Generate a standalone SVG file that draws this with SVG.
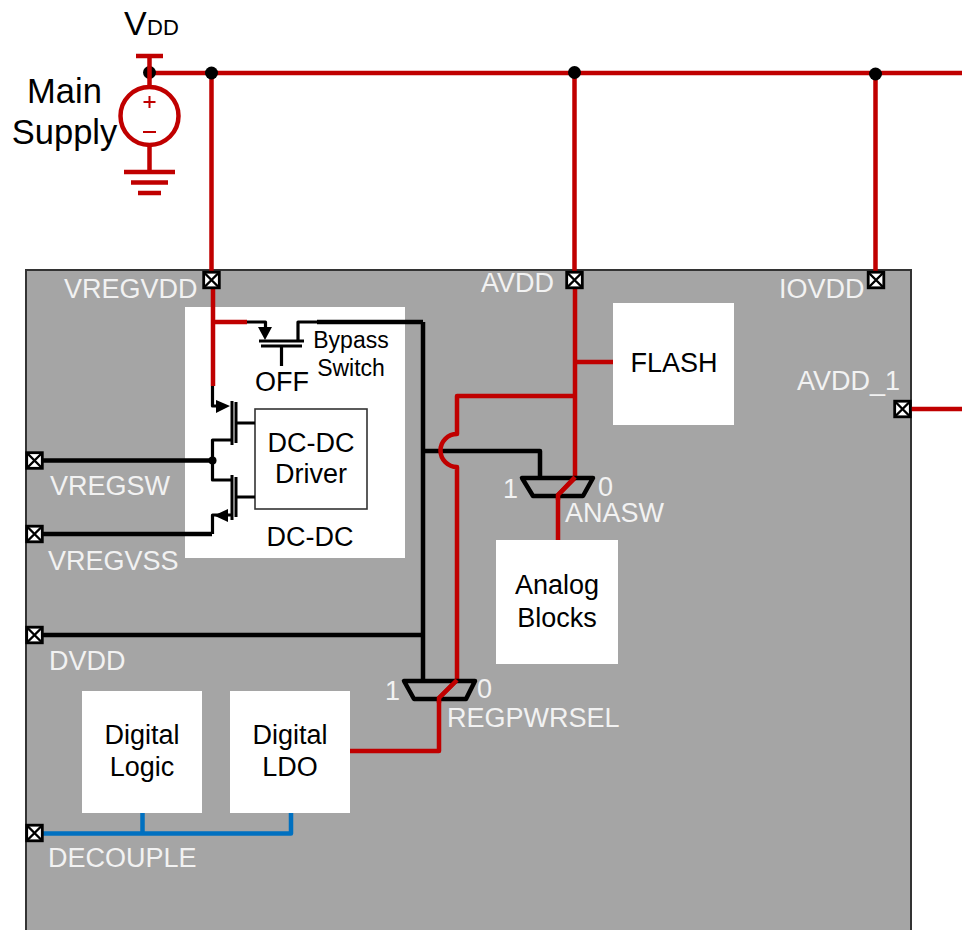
<svg xmlns="http://www.w3.org/2000/svg" width="962" height="930" viewBox="0 0 962 930">
<style>
text{font-family:"Liberation Sans",Arial,sans-serif;font-size:27px;fill:#000}
.w{fill:#f2f2f2}
.m{text-anchor:middle}
.r,.k,.bl,.t{fill:none;stroke-linejoin:round;stroke-linecap:butt}
.r{stroke:#c00000;stroke-width:4.5}
.k{stroke:#000;stroke-width:4.5}
.t{stroke:#000;stroke-width:3.2}
.bl{stroke:#0070c0;stroke-width:4.5}
.pad{fill:#fff;stroke:#000;stroke-width:2.8}
</style>
<defs>
<g id="padg"><rect class="pad" x="-7.800" y="-7.800" width="15.600" height="15.600"/><path d="M-7.500-7.500L7.500 7.500M7.500-7.500L-7.500 7.500" stroke="#000" stroke-width="2.400"/></g>
</defs>

<g id="chip"><rect x="26" y="270" width="885" height="680" fill="#a5a5a5" stroke="#333" stroke-width="2"/></g>
<g id="dcdc-box"><rect x="185" y="307" width="220" height="251" fill="#fff"/></g>
<g id="flash"><rect x="613" y="303" width="121" height="122" fill="#fff"/><text class="m" x="674" y="372">FLASH</text></g>
<g id="analog-blocks"><rect x="496" y="540" width="122" height="124" fill="#fff"/><text class="m" x="557" y="594">Analog</text><text class="m" x="557" y="627">Blocks</text></g>
<g id="digital-logic"><rect x="82" y="691" width="120" height="122" fill="#fff"/><text class="m" x="142" y="744">Digital</text><text class="m" x="142" y="776">Logic</text></g>
<g id="digital-ldo"><rect x="230" y="691" width="120" height="122" fill="#fff"/><text class="m" x="290" y="744">Digital</text><text class="m" x="290" y="776">LDO</text></g>
<g id="dcdc-driver"><rect x="255" y="409" width="112" height="100" fill="#fff" stroke="#333" stroke-width="1.600"/><text class="m" x="311" y="452">DC-DC</text><text class="m" x="311" y="483">Driver</text></g>

<g id="connectors">
<path class="r" d="M149 73H962M211.500 73V272M574.500 73V272M875.500 73V272M911 409H962"/>
<path class="k" d="M423 322V681M317 322H423M43 460.500H212M43 534H212M43 635H423M423 451H540V478"/>
<path class="t" d="M247 322H265.500V330M281.500 346V366M298 341V322H317M212.500 386V406H218M232 440H212.500V480H232M232 515H212.500V534M236 423H255M236 497H255"/>
<path class="r" d="M213 288V386M213 322H247M575 288V478L558 495V540M575 362H613M575 396H457V434A16.500 16.500 0 0 0 457 467V680L439 698V751H350"/>
<path class="bl" d="M43 833.500H291V813M142.500 813V833.500"/>
<circle cx="212.500" cy="460.500" r="4"/>
<circle cx="149.500" cy="72.500" r="6.500"/>
<circle cx="211.500" cy="73" r="6.500"/>
<circle cx="574.500" cy="72.500" r="6.500"/>
<circle cx="875.500" cy="74" r="6.500"/>
</g>

<g id="supply">
<path class="r" d="M136 56H163M149.500 56V88M149.500 145V172M124 172H175M131 182.500H168M138 193H161"/>
<circle cx="149.500" cy="116" r="29" fill="#fff" stroke="#c00000" stroke-width="4.500"/>
<path d="M149.500 96V108M143.500 102H155.500M143 132H156" stroke="#c00000" stroke-width="2" fill="none"/>
<text x="124" y="35" style="font-size:34px">V</text><text x="147" y="35" style="font-size:22px">DD</text>
<text class="m" x="64.500" y="103" style="font-size:34.500px">Main</text>
<text class="m" x="64.500" y="144" style="font-size:34.500px">Supply</text>
</g>

<g id="bypass-switch">
<path d="M258 327H272L265 340Z"/>
<path d="M259 341H304M261 346H302" stroke="#000" stroke-width="3" fill="none"/>
<text x="255" y="391">OFF</text>
<text class="m" x="351" y="348" style="font-size:23px">Bypass</text>
<text class="m" x="351" y="376" style="font-size:23px">Switch</text>
</g>

<g id="fets">
<path d="M230 406L216 400V413Z"/>
<path d="M214 515.500L228 509V522Z"/>
<path d="M232 401V445M236 402V443M232 475V520M236 477V517" stroke="#000" stroke-width="3" fill="none"/>
<text class="m" x="310" y="546">DC-DC</text>
</g>

<g id="mux-anasw">
<path d="M522 478H593L583 496H533Z" fill="none" stroke="#000" stroke-width="4.500" stroke-linejoin="round"/>
<path class="r" d="M575 477L558 495V500"/>
<text class="w" x="503" y="498">1</text><text class="w" x="598" y="496">0</text>
<text class="w" x="565" y="522">ANASW</text>
</g>
<g id="mux-regpwrsel">
<path d="M404 681H475L466 699H414Z" fill="none" stroke="#000" stroke-width="4.500" stroke-linejoin="round"/>
<path class="r" d="M457 680L439 698V703"/>
<text class="w" x="385" y="700">1</text><text class="w" x="477" y="698">0</text>
<text class="w" x="447" y="727">REGPWRSEL</text>
</g>

<g id="pad-vregvdd"><use href="#padg" x="211.500" y="280"/><text class="w" x="64" y="298">VREGVDD</text></g>
<g id="pad-avdd"><use href="#padg" x="574.500" y="280"/><text class="w" x="481" y="292">AVDD</text></g>
<g id="pad-iovdd"><use href="#padg" x="876" y="280"/><text class="w" x="779" y="298">IOVDD</text></g>
<g id="pad-avdd1"><use href="#padg" x="902.500" y="409"/><text class="w" x="797" y="390">AVDD_1</text></g>
<g id="pad-vregsw"><use href="#padg" x="34.500" y="460.500"/><text class="w" x="50" y="495">VREGSW</text></g>
<g id="pad-vregvss"><use href="#padg" x="34.500" y="534"/><text class="w" x="48" y="570">VREGVSS</text></g>
<g id="pad-dvdd"><use href="#padg" x="34.500" y="635"/><text class="w" x="49" y="670">DVDD</text></g>
<g id="pad-decouple"><use href="#padg" x="34.500" y="833"/><text class="w" x="48" y="867">DECOUPLE</text></g>
</svg>
